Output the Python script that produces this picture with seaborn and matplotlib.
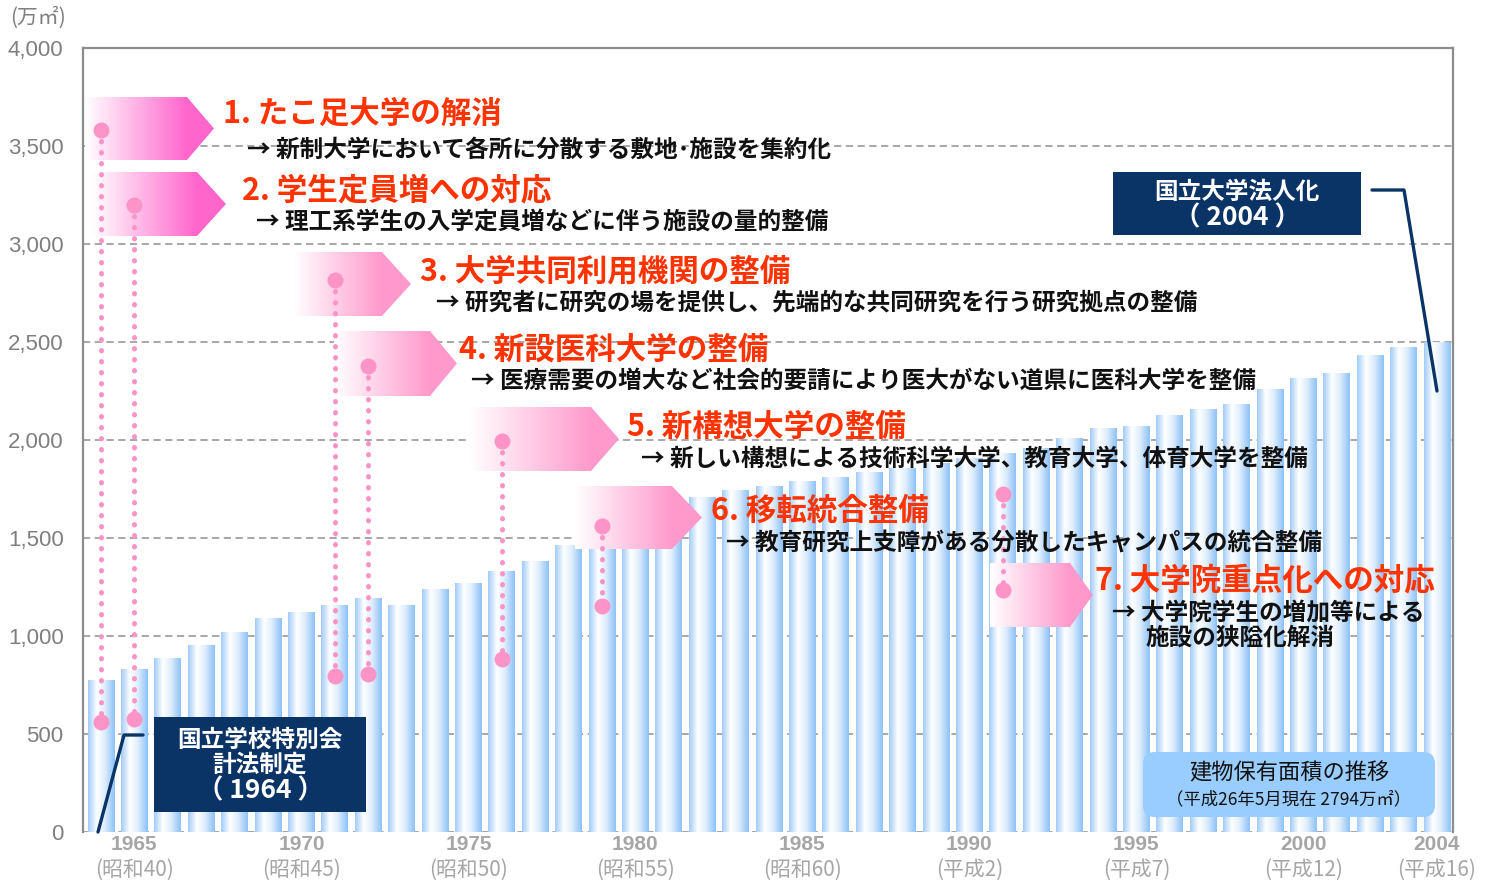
import numpy as np
import pandas as pd
import matplotlib
matplotlib.use("Agg")
import matplotlib.pyplot as plt
import seaborn as sns
from matplotlib.colors import LinearSegmentedColormap
from matplotlib.patches import Polygon, Rectangle, FancyBboxPatch
from matplotlib.transforms import Affine2D

# ---------------- data ----------------
years = list(range(1964, 2005))
area = [772, 830, 886, 954, 1020, 1088, 1122, 1155, 1189, 1155,
        1235, 1269, 1327, 1381, 1461, 1445, 1450, 1580, 1709, 1743,
        1765, 1787, 1810, 1833, 1855, 1880, 1905, 1932, 1957, 2010,
        2057, 2068, 2125, 2157, 2182, 2258, 2316, 2340, 2430, 2474, 2498]

tick_years = [1965, 1970, 1975, 1980, 1985, 1990, 1995, 2000, 2004]
tick_eras = ["(昭和40)", "(昭和45)", "(昭和50)", "(昭和55)", "(昭和60)",
             "(平成2)", "(平成7)", "(平成12)", "(平成16)"]
y_ticks = [0, 500, 1000, 1500, 2000, 2500, 3000, 3500, 4000]

ann_titles = ["1. たこ足大学の解消", "2. 学生定員増への対応", "3. 大学共同利用機関の整備",
              "4. 新設医科大学の整備", "5. 新構想大学の整備", "6. 移転統合整備",
              "7. 大学院重点化への対応"]
ann_subs = ["→ 新制大学において各所に分散する敷地･施設を集約化",
            "→ 理工系学生の入学定員増などに伴う施設の量的整備",
            "→ 研究者に研究の場を提供し、先端的な共同研究を行う研究拠点の整備",
            "→ 医療需要の増大など社会的要請により医大がない道県に医科大学を整備",
            "→ 新しい構想による技術科学大学、教育大学、体育大学を整備",
            "→ 教育研究上支障がある分散したキャンパスの統合整備",
            "→ 大学院学生の増加等による"]
ann_sub2 = "施設の狭隘化解消"
ann_years = [1964, 1965, 1971, 1972, 1976, 1979, 1991]
ann_top = [3580, 3200, 2816, 2378, 1995, 1561, 1724]
ann_bottom = [560, 575, 796, 806, 883, 1153, 1235]

box1_lines = ["国立学校特別会", "計法制定", "（ 1964 ）"]
box2_lines = ["国立大学法人化", "（ 2004 ）"]
legend_l1 = "建物保有面積の推移"
legend_l2 = "（平成26年5月現在 2794万㎡）"
unit_label = "(万㎡)"

# ---------------- style ----------------
sns.set_theme(style="white")
plt.rcParams["font.family"] = ["Noto Sans CJK JP", "DejaVu Sans"]

W, H = 1491, 886
AX_L, AX_R, AX_T, AX_B = 83, 1453, 48, 832
XLIM = (-0.54, 40.48)
YLIM = (0, 4000)

fig = plt.figure(figsize=(W / 100, H / 100), dpi=100, facecolor="white")
ax = fig.add_axes([AX_L / W, 1 - AX_B / H, (AX_R - AX_L) / W, (AX_B - AX_T) / H])

PIX = Affine2D().scale(1, -1).translate(0, H)   # pixel (top-left origin) -> display


def dx(px):
    return XLIM[0] + (px - AX_L) / (AX_R - AX_L) * (XLIM[1] - XLIM[0])


def dy(py):
    return YLIM[0] + (AX_B - py) / (AX_B - AX_T) * (YLIM[1] - YLIM[0])


df = pd.DataFrame({"year": [str(y) for y in years], "area": area})
sns.barplot(data=df, x="year", y="area", order=[str(y) for y in years],
            color="#a3cdf8", saturation=1, width=0.8, linewidth=0,
            edgecolor="none", ax=ax)

# gradient fill of bars
bar_cmap = LinearSegmentedColormap.from_list(
    "bar", [(0, "#a0cbf8"), (0.33, "#ffffff"), (0.62, "#e0eefc"), (1, "#8cc1f7")])
grad = np.linspace(0, 1, 256).reshape(1, -1)
for p in list(ax.patches):
    x, w, h = p.get_x(), p.get_width(), p.get_height()
    ax.imshow(grad, cmap=bar_cmap, extent=[x, x + w, 0, h], aspect="auto",
              origin="lower", zorder=1.5, interpolation="bilinear")
    p.set_facecolor("none")
    p.set_edgecolor("none")

# axes styling
ax.set_xlim(*XLIM)
ax.set_ylim(*YLIM)
ax.set_yticks(y_ticks)
ax.set_yticklabels([f"{v:,}" for v in y_ticks], fontsize=16, color="#7f7f7f",
                   family="Liberation Sans")
ax.tick_params(axis="y", length=0, pad=14)
ax.set_xticks([years.index(y) for y in tick_years])
ax.set_xticklabels([str(y) for y in tick_years], fontsize=15, color="#a6a6a6",
                   fontweight="bold", family="Liberation Sans")
ax.tick_params(axis="x", length=0, pad=2)
for pos, era in zip([years.index(y) for y in tick_years], tick_eras):
    ax.annotate(era, xy=(pos, 0), xycoords=("data", "axes fraction"),
                xytext=(0, -38), textcoords="offset pixels", ha="center",
                va="center", fontsize=15, color="#a6a6a6")
ax.set_xlabel("")
ax.set_ylabel("")
ax.set_axisbelow(True)
ax.yaxis.grid(True, linestyle=(0, (4, 2.5)), color="#a0a0a0", lw=1.3)
ax.xaxis.grid(False)
for s in ["left", "top", "right"]:
    ax.spines[s].set_visible(True)
    ax.spines[s].set_color("#8c8c8c")
    ax.spines[s].set_linewidth(1.6)
ax.spines["bottom"].set_visible(False)

fig.text(10 / W, 1 - 18 / H, unit_label, fontsize=15, color="#808080",
         ha="left", va="center")

# ---------------- annotation arrows ----------------
arrows_px = [(85, 187, 214, 97, 160), (92, 197, 226, 172, 236),
             (293, 382, 411, 252, 316), (334, 430, 457, 331, 396),
             (470, 591, 619, 407, 471), (575, 672, 702, 486, 549),
             (990, 1070, 1093, 563, 627)]
arrow_colors = ["#ff66cc", "#ff66cc", "#ff99cc", "#ff99cc", "#ff99cc", "#ff99cc", "#ff99cc"]
title_px = [(223, 114), (242, 190), (420, 271), (459, 350), (627, 427), (711, 511), (1095, 580)]
sub_px = [(247, 150), (256, 222), (436, 303), (471, 381), (641, 459), (726, 543), (1112, 612)]

xs = np.linspace(0, 1, 400)
for (l, be, tip, top, bot), col in zip(arrows_px, arrow_colors):
    mid = (top + bot) / 2
    verts = [(dx(l), dy(top)), (dx(be), dy(top)), (dx(tip), dy(mid)),
             (dx(be), dy(bot)), (dx(l), dy(bot))]
    poly = Polygon(verts, closed=True, facecolor="none", edgecolor="none",
                   transform=ax.transData, zorder=3)
    ax.add_patch(poly)
    frac = np.clip(xs * (tip - l) / (be - l), 0, 1).reshape(1, -1)
    cm = LinearSegmentedColormap.from_list("a", ["#ffffff", col])
    im = ax.imshow(frac, cmap=cm, vmin=0, vmax=1,
                   extent=[dx(l), dx(tip), dy(bot), dy(top)], aspect="auto",
                   origin="lower", zorder=3, interpolation="bilinear")
    im.set_clip_path(poly)

for (tx, ty), (sx, sy), t, s in zip(title_px, sub_px, ann_titles, ann_subs):
    ax.text(tx, ty, t, transform=PIX, fontsize=22, fontweight="bold",
            color="#ff3300", ha="left", va="center", zorder=6)
    ax.text(sx, sy, s, transform=PIX, fontsize=17, fontweight="bold",
            color="#111111", ha="left", va="center", zorder=6)
ax.text(1145, 638, ann_sub2, transform=PIX, fontsize=17, fontweight="bold",
        color="#111111", ha="left", va="center", zorder=6)

# pink dotted markers
PINK = "#fc94c8"
for yr, t, b in zip(ann_years, ann_top, ann_bottom):
    i = years.index(yr)
    ax.plot([i, i], [t, b], color=PINK, lw=3.6, linestyle=(0, (0.1, 2.1)),
            dash_capstyle="round", zorder=4)
    ax.plot([i, i], [t, b], color=PINK, marker="o", ms=11.5, linestyle="none",
            markeredgewidth=0, zorder=4.5)

# ---------------- navy boxes ----------------
NAVY = "#0b3466"
ax.add_patch(Rectangle((154, 717), 212, 95, transform=PIX, facecolor=NAVY,
                       edgecolor="none", zorder=7, clip_on=False))
for txt, yy, fs in zip(box1_lines, [740, 765, 791], [17, 17, 19]):
    ax.text(260, yy, txt, transform=PIX, fontsize=fs, fontweight="bold",
            color="white", ha="center", va="center", zorder=8)
ax.plot([143, 124, 98], [735, 735, 832], transform=PIX, color=NAVY, lw=2.4,
        clip_on=False, zorder=7)

ax.add_patch(Rectangle((1113, 172), 248, 63, transform=PIX, facecolor=NAVY,
                       edgecolor="none", zorder=7, clip_on=False))
for txt, yy, fs in zip(box2_lines, [192, 218], [17, 19]):
    ax.text(1237, yy, txt, transform=PIX, fontsize=fs, fontweight="bold",
            color="white", ha="center", va="center", zorder=8)
ax.plot([1372, 1404, 1437], [190, 190, 391], transform=PIX, color=NAVY, lw=2.4,
        clip_on=False, zorder=7)

# legend-like rounded box
ax.add_patch(FancyBboxPatch((1143, 752), 292, 65,
                            boxstyle="round,pad=0,rounding_size=12",
                            transform=PIX, facecolor="#99ccff", edgecolor="none",
                            zorder=7, clip_on=False))
ax.text(1289, 773, legend_l1, transform=PIX, fontsize=16, color="#111111",
        ha="center", va="center", zorder=8)
ax.text(1289, 799, legend_l2, transform=PIX, fontsize=12.5, color="#111111",
        ha="center", va="center", zorder=8)

ax.set_xlim(*XLIM)
ax.set_ylim(*YLIM)
fig.savefig("out.png", dpi=100, facecolor="white")
